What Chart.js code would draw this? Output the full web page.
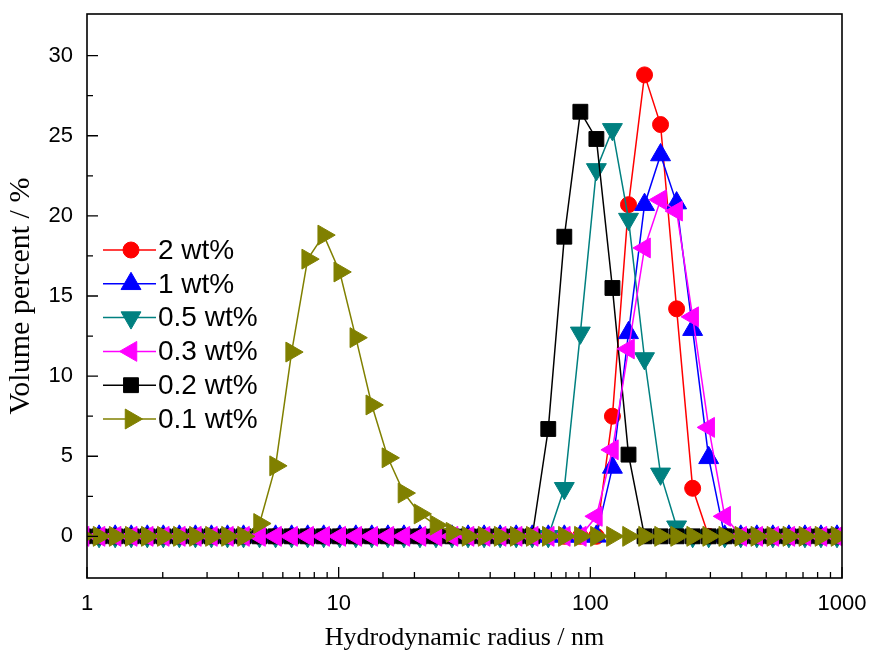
<!DOCTYPE html>
<html>
<head>
<meta charset="utf-8">
<script src="https://cdn.jsdelivr.net/npm/chart.js@4/dist/chart.umd.min.js"></script>
<style>
  body { margin: 0; background: #fff; }
  #wrap { width: 869px; height: 656px; }
</style>
</head>
<body>
<div id="wrap"><canvas id="chart" width="869" height="656"></canvas></div>
<script>
const radius = [0.9649, 1.117, 1.294, 1.499, 1.736, 2.01, 2.328, 2.696, 3.122, 3.615,
  4.187, 4.849, 5.615, 6.503, 7.531, 8.721, 10.1, 11.7, 13.54, 15.69,
  18.17, 21.04, 24.36, 28.21, 32.67, 37.84, 43.82, 50.75, 58.77, 68.06,
  78.82, 91.28, 105.7, 122.4, 141.8, 164.2, 190.1, 220.2, 255, 295.3,
  342, 396.1, 458.7, 531.2, 615.1, 712.4, 825, 955.4, 1106];

const labels = ['2 wt%', '1 wt%', '0.5 wt%', '0.3 wt%', '0.2 wt%', '0.1 wt%'];

const wt2 = [0, 0, 0, 0, 0, 0, 0, 0, 0, 0,
  0, 0, 0, 0, 0, 0, 0, 0, 0, 0,
  0, 0, 0, 0, 0, 0, 0, 0, 0, 0,
  0, 0, 0, 7.5, 20.7, 28.8, 25.7, 14.2, 3.0, 0,
  0, 0, 0, 0, 0, 0, 0, 0, 0];
const wt1 = [0, 0, 0, 0, 0, 0, 0, 0, 0, 0,
  0, 0, 0, 0, 0, 0, 0, 0, 0, 0,
  0, 0, 0, 0, 0, 0, 0, 0, 0, 0,
  0, 0, 0, 4.3, 12.7, 20.7, 23.8, 20.8, 12.9, 4.9,
  0, 0, 0, 0, 0, 0, 0, 0, 0];
const wt05 = [0, 0, 0, 0, 0, 0, 0, 0, 0, 0,
  0, 0, 0, 0, 0, 0, 0, 0, 0, 0,
  0, 0, 0, 0, 0, 0, 0, 0, 0, 0,
  3.0, 12.7, 22.9, 25.4, 19.8, 11.1, 3.9, 0.6, 0, 0,
  0, 0, 0, 0, 0, 0, 0, 0, 0];
const wt03 = [0, 0, 0, 0, 0, 0, 0, 0, 0, 0,
  0, 0, 0, 0, 0, 0, 0, 0, 0, 0,
  0, 0, 0, 0, 0, 0, 0, 0, 0, 0,
  0, 0, 1.25, 5.4, 11.7, 18.0, 21.0, 20.3, 13.7, 6.8,
  1.25, 0, 0, 0, 0, 0, 0, 0, 0];
const wt02 = [0, 0, 0, 0, 0, 0, 0, 0, 0, 0,
  0, 0, 0, 0, 0, 0, 0, 0, 0, 0,
  0, 0, 0, 0, 0, 0, 0, 0, 0, 6.7,
  18.7, 26.5, 24.8, 15.5, 5.1, 0, 0, 0, 0, 0,
  0, 0, 0, 0, 0, 0, 0, 0, 0];
const wt01 = [0, 0, 0, 0, 0, 0, 0, 0, 0, 0,
  0, 0.8, 4.4, 11.5, 17.3, 18.8, 16.5, 12.4, 8.2, 4.9,
  2.7, 1.4, 0.7, 0.25, 0, 0, 0, 0, 0, 0,
  0, 0, 0, 0, 0, 0, 0, 0, 0, 0,
  0, 0, 0, 0, 0, 0, 0, 0, 0];

const xTickLabels = [1, 10, 100, 1000];
const yTickLabels = [0, 5, 10, 15, 20, 25, 30];

const sansFont = "'Liberation Sans', Arial, sans-serif";
const serifFont = "'Liberation Serif', 'Times New Roman', serif";

function pts(vals) {
  return radius.map((r, i) => ({ x: r, y: vals[i] }));
}

// colour, marker, size, rotation, draw order (low = on top)
const styles = [
  { c: '#FF0000', s: 'circle', r: 8, rot: 0, order: 5 },
  { c: '#0000FF', s: 'triangle', r: 11.5, rot: 0, order: 4 },
  { c: '#008080', s: 'triangle', r: 11.5, rot: 180, order: 3 },
  { c: '#FF00FF', s: 'triangle', r: 11.5, rot: 270, order: 1 },
  { c: '#000000', s: 'rect', r: 10.5, rot: 0, order: 2 },
  { c: '#808000', s: 'triangle', r: 11.5, rot: 90, order: 0 }
];
const series = [wt2, wt1, wt05, wt03, wt02, wt01];

const datasets = series.map((vals, i) => ({
  label: labels[i],
  data: pts(vals),
  borderColor: styles[i].c,
  backgroundColor: styles[i].c,
  borderWidth: 1.5,
  pointStyle: styles[i].s,
  pointRadius: styles[i].r,
  pointRotation: styles[i].rot,
  pointBorderWidth: 1,
  tension: 0,
  order: styles[i].order,
  clip: 0
}));

// frame, inward ticks and in-plot legend
const framePlugin = {
  id: 'frame',
  afterDraw(chart) {
    const ctx = chart.ctx;
    const a = chart.chartArea;
    const xs = chart.scales.x, ys = chart.scales.y;
    ctx.save();
    ctx.strokeStyle = '#000';
    ctx.lineWidth = 1.6;
    ctx.strokeRect(a.left, a.top, a.right - a.left, a.bottom - a.top);

    ctx.lineWidth = 1.3;
    ctx.beginPath();
    xs.ticks.forEach(t => {
      const px = xs.getPixelForValue(t.value);
      const major = xTickLabels.includes(t.value);
      ctx.moveTo(px, a.bottom);
      ctx.lineTo(px, a.bottom - (major ? 11 : 6));
    });
    ys.ticks.forEach(t => {
      if (t.value < 0 || t.value > 30) return;
      const py = ys.getPixelForValue(t.value);
      const major = yTickLabels.includes(t.value);
      ctx.moveTo(a.left, py);
      ctx.lineTo(a.left + (major ? 11 : 6), py);
    });
    ctx.stroke();

    // legend
    ctx.font = '28px ' + sansFont;
    ctx.textBaseline = 'middle';
    ctx.textAlign = 'left';
    labels.forEach((lab, i) => {
      const y = 250 + i * 33.8;
      const st = styles[i];
      ctx.strokeStyle = st.c;
      ctx.fillStyle = st.c;
      ctx.lineWidth = 1.5;
      ctx.beginPath();
      ctx.moveTo(103, y);
      ctx.lineTo(156, y);
      ctx.stroke();
      ctx.lineWidth = 1;
      Chart.helpers.drawPoint(ctx, { pointStyle: st.s, radius: st.r, rotation: st.rot, borderWidth: 1 }, 131, y);
      ctx.fillStyle = '#000';
      ctx.fillText(lab, 158, y + 1);
    });
    ctx.restore();
  }
};

new Chart(document.getElementById('chart').getContext('2d'), {
  type: 'line',
  data: { datasets: datasets },
  options: {
    responsive: false,
    animation: false,
    layout: { padding: { top: 14, right: 27, left: 0, bottom: 0 } },
    plugins: { legend: { display: false }, tooltip: { enabled: false } },
    scales: {
      x: {
        type: 'logarithmic',
        min: 1,
        max: 1000,
        grid: { display: false, drawTicks: false },
        border: { display: false },
        afterFit: s => { s.height = 78; s.paddingLeft = 0; s.paddingRight = 0; },
        ticks: {
          autoSkip: false,
          maxRotation: 0,
          padding: 13,
          color: '#000',
          font: { family: sansFont, size: 22 },
          callback: v => xTickLabels.includes(v) ? String(v) : ''
        },
        title: {
          display: true,
          text: 'Hydrodynamic radius / nm',
          color: '#000',
          font: { family: serifFont, size: 26 },
          padding: { top: 0, bottom: 2 }
        }
      },
      y: {
        min: -2.6,
        max: 32.6,
        grid: { display: false, drawTicks: false },
        border: { display: false },
        afterFit: s => { s.width = 87; s.paddingTop = 0; s.paddingBottom = 0; },
        ticks: {
          stepSize: 2.5,
          includeBounds: false,
          autoSkip: false,
          padding: 14,
          color: '#000',
          font: { family: sansFont, size: 22 },
          callback: v => yTickLabels.includes(v) ? String(v) : ''
        },
        title: {
          display: true,
          text: 'Volume percent / %',
          color: '#000',
          font: { family: serifFont, size: 30 },
          padding: { top: 3, bottom: 0 }
        }
      }
    }
  },
  plugins: [framePlugin]
});
</script>
</body>
</html>
